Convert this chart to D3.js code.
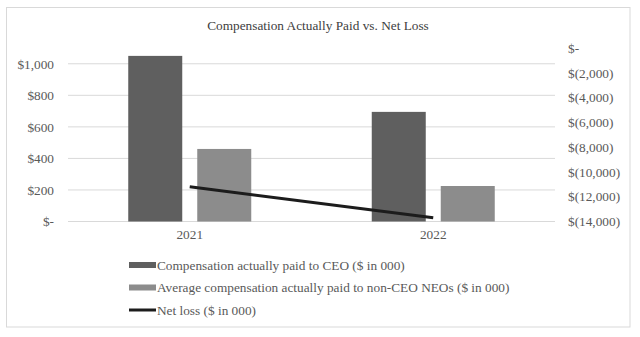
<!DOCTYPE html>
<html>
<head>
<meta charset="utf-8">
<script src="https://cdn.jsdelivr.net/npm/d3@7"></script>
<style>
  body { margin: 0; background: #fff; }
  text { font-family: "Liberation Serif", "Times New Roman", serif; }
</style>
</head>
<body>
<div id="chart"></div>
<script>
const WIDTH = 640
const HEIGHT = 337
const FONT_SIZE = 13.3

const years = ["2021", "2022"]
const ceoPay = [1050, 695]
const neoPay = [460, 225]
const netLoss = [-11200, -13700]
const leftTicks = [0, 200, 400, 600, 800, 1000]
const rightTicks = [0, -2000, -4000, -6000, -8000, -10000, -12000, -14000]
const legendLabels = [
  "Compensation actually paid to CEO ($ in 000)",
  "Average compensation actually paid to non-CEO NEOs ($ in 000)",
  "Net loss ($ in 000)"
]

const CEO_COLOR = "#5f5f5f"
const NEO_COLOR = "#8c8c8c"
const LINE_COLOR = "#1c1c1c"
const TEXT_COLOR = "#595959"

const plot = { left: 68, right: 555, top: 48, bottom: 221.5 }

const svg = d3.select("#chart")
  .append("svg")
  .attr("width", WIDTH)
  .attr("height", HEIGHT)

// outer border
svg.append("rect")
  .attr("x", 6.5)
  .attr("y", 7.5)
  .attr("width", 623.5)
  .attr("height", 319.5)
  .attr("fill", "#fff")
  .attr("stroke", "#d9d9d9")

svg.append("text")
  .attr("x", 318)
  .attr("y", 30)
  .attr("text-anchor", "middle")
  .attr("font-size", FONT_SIZE)
  .attr("fill", "#404040")
  .text("Compensation Actually Paid vs. Net Loss")

const x = d3.scaleBand()
  .domain(years)
  .range([plot.left, plot.right])

const yLeft = d3.scaleLinear()
  .domain([0, 1100])
  .range([plot.bottom, plot.top])

const yRight = d3.scaleLinear()
  .domain([-14000, 0])
  .range([plot.bottom, plot.top])

// gridlines
svg.append("g")
  .selectAll("line")
  .data(leftTicks)
  .join("line")
  .attr("x1", plot.left)
  .attr("x2", plot.right)
  .attr("y1", d => yLeft(d))
  .attr("y2", d => yLeft(d))
  .attr("stroke", "#d9d9d9")
  .attr("stroke-width", 1)

const fmtLeft = d => d === 0 ? "$-" : "$" + d3.format(",")(d)
const fmtRight = d => d === 0 ? "$-" : "$(" + d3.format(",")(-d) + ")"

const styleTicks = g => g.selectAll("text")
  .attr("font-family", "Liberation Serif, serif")
  .attr("font-size", FONT_SIZE)
  .attr("fill", TEXT_COLOR)

svg.append("g")
  .attr("transform", `translate(${plot.left - 14},0)`)
  .call(d3.axisLeft(yLeft).tickValues(leftTicks).tickFormat(fmtLeft).tickSize(0).tickPadding(0))
  .call(g => g.select(".domain").remove())
  .call(styleTicks)

svg.append("g")
  .attr("transform", `translate(${plot.right + 13},0)`)
  .call(d3.axisRight(yRight).tickValues(rightTicks).tickFormat(fmtRight).tickSize(0).tickPadding(0))
  .call(g => g.select(".domain").remove())
  .call(styleTicks)

// category labels
svg.append("g")
  .attr("transform", `translate(0,${plot.bottom + 8})`)
  .call(d3.axisBottom(x).tickSize(0).tickPadding(0))
  .call(g => g.select(".domain").remove())
  .call(styleTicks)

// bars
const BAR_W = 54
const BAR_GAP = 15
const series = [
  { values: ceoPay, color: CEO_COLOR, offset: -(BAR_W + BAR_GAP / 2) },
  { values: neoPay, color: NEO_COLOR, offset: BAR_GAP / 2 }
]
series.forEach(s => {
  svg.append("g")
    .selectAll("rect")
    .data(years)
    .join("rect")
    .attr("x", (d, i) => x(d) + x.bandwidth() / 2 + s.offset)
    .attr("y", (d, i) => yLeft(s.values[i]))
    .attr("width", BAR_W)
    .attr("height", (d, i) => yLeft(0) - yLeft(s.values[i]))
    .attr("fill", s.color)
})

// net loss line
const line = d3.line()
  .x((d, i) => x(years[i]) + x.bandwidth() / 2)
  .y(d => yRight(d))

svg.append("path")
  .datum(netLoss)
  .attr("d", line)
  .attr("fill", "none")
  .attr("stroke", LINE_COLOR)
  .attr("stroke-width", 3)

// legend
const legend = svg.append("g")
  .selectAll("g")
  .data(legendLabels)
  .join("g")
  .attr("transform", (d, i) => `translate(129,${265 + i * 22.5})`)

legend.each(function (d, i) {
  const g = d3.select(this)
  if (i < 2) {
    g.append("rect")
      .attr("x", 0)
      .attr("y", -3)
      .attr("width", 27)
      .attr("height", 6)
      .attr("fill", i === 0 ? CEO_COLOR : NEO_COLOR)
  } else {
    g.append("line")
      .attr("x1", 0)
      .attr("x2", 27)
      .attr("y1", 0)
      .attr("y2", 0)
      .attr("stroke", LINE_COLOR)
      .attr("stroke-width", 3)
  }
  g.append("text")
    .attr("x", 28)
    .attr("y", 4.5)
    .attr("font-size", FONT_SIZE)
    .attr("fill", TEXT_COLOR)
    .text(d)
})
</script>
</body>
</html>
